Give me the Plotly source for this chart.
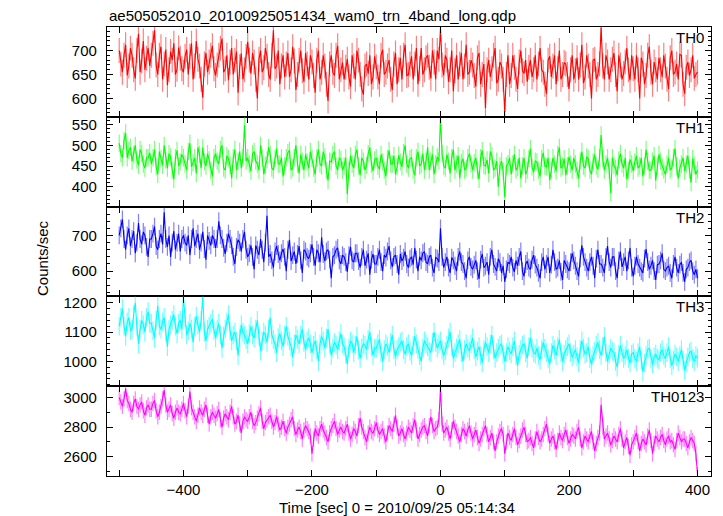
import plotly.graph_objects as go
from plotly.subplots import make_subplots

# ---------------- data ----------------
# *_a : samples at t = -500, -495, ..., 400 s
# *_b : samples at the half steps t = -497.5, -492.5, ..., 397.5 s
time_a = list(range(-500, 401, 5))
time_b = [t + 2.5 for t in time_a[:-1]]

th0_a = [700, 655, 712, 668, 690, 642, 735, 678, 660, 705,
         690, 742, 650, 708, 672, 628, 698, 715, 661, 684,
         655, 702, 688, 640, 720, 668, 602, 695, 676, 710,
         648, 690, 725, 662, 638, 705, 680, 612, 694, 660,
         718, 652, 676, 600, 700, 664, 688, 640, 742, 668,
         630, 690, 672, 645, 708, 618, 680, 658, 695, 640,
         676, 612, 700, 655, 668, 595, 690, 648, 710, 660,
         640, 682, 625, 668, 700, 650, 608, 672, 690, 645,
         666, 630, 702, 655, 680, 618, 695, 660, 640, 712,
         650, 688, 672, 630, 705, 660, 690, 642, 676, 700,
         745, 648, 680, 660, 615, 690, 672, 640, 712, 655,
         670, 625, 695, 650, 580, 680, 662, 705, 640, 668,
         572, 690, 648, 665, 620, 700, 652, 635, 680, 660,
         640, 705, 655, 610, 688, 668, 630, 700, 650, 672,
         620, 690, 658, 640, 712, 645, 668, 600, 682, 650,
         748, 640, 676, 660, 695, 615, 670, 652, 705, 638,
         662, 690, 600, 672, 648, 708, 630, 660, 685, 645,
         668, 620, 700, 655, 640, 690, 610, 676, 660, 642,
         655]
th0_b = [672, 690, 648, 705, 660, 700, 655, 720, 684, 668,
         715, 670, 690, 640, 702, 660, 680, 650, 706, 662,
         688, 650, 715, 668, 682, 640, 672, 655, 690, 662,
         670, 705, 655, 690, 676, 650, 698, 666, 640, 688,
         680, 695, 640, 682, 655, 705, 650, 690, 662, 700,
         668, 645, 695, 660, 678, 650, 700, 635, 672, 690,
         648, 680, 640, 690, 630, 672, 655, 690, 640, 675,
         665, 645, 690, 640, 680, 620, 668, 652, 630, 688,
         645, 690, 650, 668, 640, 672, 630, 685, 690, 648,
         672, 640, 705, 662, 650, 685, 665, 700, 640, 682,
         670, 690, 635, 700, 658, 640, 695, 668, 650, 680,
         648, 685, 630, 672, 660, 645, 690, 632, 676, 640,
         650, 630, 690, 640, 676, 658, 680, 665, 645, 690,
         672, 660, 630, 680, 645, 690, 662, 640, 675, 650,
         660, 640, 685, 670, 632, 690, 650, 680, 640, 672,
         668, 690, 640, 682, 650, 690, 640, 676, 660, 690,
         640, 660, 685, 630, 690, 655, 676, 640, 660, 690,
         640, 685, 650, 672, 692, 630, 665, 648, 690, 650]

th1_a = [505, 470, 530, 488, 462, 500, 452, 480, 445, 470,
         455, 490, 430, 468, 500, 445, 472, 418, 488, 460,
         470, 440, 505, 458, 432, 478, 495, 450, 465, 425,
         480, 455, 500, 440, 468, 420, 490, 462, 445, 550,
         470, 438, 485, 455, 500, 430, 465, 478, 440, 492,
         455, 425, 470, 488, 446, 500, 432, 462, 478, 445,
         468, 430, 490, 450, 472, 415, 460, 485, 440, 466,
         450, 382, 475, 445, 490, 428, 462, 452, 495, 438,
         470, 442, 460, 425, 488, 455, 430, 476, 448, 500,
         445, 470, 428, 485, 455, 440, 495, 462, 430, 472,
         565, 450, 478, 432, 490, 455, 420, 468, 445, 480,
         440, 470, 418, 488, 450, 432, 475, 445, 400, 462,
         375, 455, 430, 478, 446, 420, 470, 440, 492, 435,
         460, 425, 482, 448, 415, 470, 438, 495, 450, 428,
         472, 440, 455, 420, 485, 445, 468, 430, 478, 442,
         525, 440, 470, 385, 452, 428, 480, 445, 418, 466,
         438, 475, 450, 425, 490, 440, 462, 415, 478, 448,
         430, 470, 445, 492, 420, 455, 438, 475, 410, 452,
         440]
th1_b = [480, 512, 470, 495, 478, 465, 490, 455, 470, 482,
         470, 448, 485, 452, 465, 480, 440, 470, 450, 478,
         455, 485, 448, 470, 495, 445, 460, 480, 440, 470,
         462, 490, 445, 475, 452, 470, 440, 485, 470, 462,
         455, 480, 462, 440, 470, 452, 495, 445, 468, 455,
         470, 450, 482, 440, 470, 455, 478, 440, 460, 485,
         445, 470, 455, 485, 440, 462, 478, 450, 470, 440,
         470, 440, 455, 478, 450, 470, 440, 480, 455, 465,
         450, 478, 440, 468, 455, 475, 448, 460, 482, 455,
         468, 440, 470, 450, 480, 462, 440, 478, 455, 462,
         480, 445, 462, 470, 440, 475, 458, 440, 470, 455,
         458, 440, 470, 452, 465, 485, 440, 462, 450, 438,
         450, 470, 455, 440, 470, 450, 430, 468, 448, 462,
         440, 468, 450, 470, 440, 455, 478, 445, 468, 450,
         455, 470, 440, 462, 450, 472, 440, 460, 450, 470,
         468, 455, 440, 470, 445, 465, 455, 470, 440, 455,
         460, 445, 470, 450, 462, 440, 475, 450, 462, 440,
         455, 440, 470, 450, 445, 470, 455, 440, 468, 430]

th2_a = [700, 745, 660, 720, 690, 650, 735, 675, 700, 640,
         690, 725, 660, 705, 765, 668, 640, 712, 680, 655,
         700, 672, 645, 720, 690, 660, 710, 632, 685, 700,
         665, 740, 690, 648, 705, 672, 620, 688, 655, 710,
         640, 672, 605, 660, 690, 625, 755, 648, 610, 670,
         630, 662, 600, 688, 645, 620, 670, 595, 655, 635,
         675, 615, 650, 695, 628, 660, 580, 645, 665, 620,
         640, 598, 668, 625, 650, 610, 660, 632, 590, 648,
         620, 660, 600, 638, 670, 612, 645, 590, 628, 655,
         610, 640, 665, 600, 630, 655, 620, 645, 595, 635,
         720, 610, 640, 595, 630, 600, 655, 620, 580, 640,
         605, 630, 578, 648, 615, 590, 660, 612, 635, 595,
         570, 625, 640, 598, 615, 655, 585, 628, 605, 645,
         610, 580, 640, 620, 595, 660, 605, 630, 575, 620,
         600, 650, 615, 585, 672, 625, 600, 640, 580, 660,
         620, 595, 670, 610, 640, 580, 655, 625, 600, 665,
         585, 640, 610, 595, 662, 605, 630, 575, 620, 650,
         600, 615, 580, 640, 595, 625, 570, 610, 630, 590,
         580]
th2_b = [720, 690, 700, 670, 712, 680, 690, 710, 668, 690,
         705, 670, 690, 675, 690, 700, 680, 660, 705, 690,
         680, 700, 690, 670, 705, 680, 662, 700, 672, 690,
         690, 700, 665, 680, 690, 640, 668, 680, 690, 660,
         650, 640, 672, 645, 660, 680, 640, 630, 655, 648,
         650, 640, 660, 628, 655, 648, 630, 660, 640, 650,
         640, 660, 625, 648, 655, 632, 640, 660, 630, 645,
         625, 645, 630, 650, 628, 640, 615, 650, 632, 620,
         640, 625, 645, 655, 630, 640, 620, 648, 638, 620,
         635, 618, 632, 640, 650, 625, 640, 610, 638, 625,
         640, 625, 610, 638, 615, 640, 625, 600, 630, 612,
         618, 600, 632, 610, 625, 640, 620, 600, 625, 615,
         605, 620, 610, 630, 640, 600, 620, 610, 632, 618,
         595, 625, 605, 640, 618, 625, 610, 598, 630, 605,
         625, 630, 600, 635, 640, 610, 625, 615, 635, 620,
         610, 640, 625, 640, 600, 630, 612, 640, 630, 610,
         615, 620, 600, 635, 625, 615, 600, 618, 630, 605,
         610, 595, 620, 610, 618, 595, 605, 625, 600, 605]

th3_a = [1120, 1180, 1085, 1150, 1110, 1200, 1060, 1140, 1100, 1170,
         1130, 1080, 1190, 1110, 1150, 1050, 1125, 1160, 1095, 1140,
         1220, 1090, 1130, 1065, 1155, 1100, 1220, 1070, 1120, 1145,
         1080, 1130, 1045, 1110, 1160, 1070, 1100, 1020, 1125, 1090,
         1060, 1120, 1080, 1140, 1035, 1100, 1065, 1150, 1075, 1030,
         1095, 1050, 1120, 1070, 1015, 1090, 1060, 1110, 1040, 1080,
         1030, 1070, 1000, 1085, 1045, 1110, 1020, 1065, 1040, 1095,
         1050, 990, 1070, 1030, 1085, 1010, 1060, 1040, 1100, 1020,
         1045, 1075, 1000, 1060, 1030, 1090, 1015, 1050, 1070, 1025,
         1060, 1020, 1085, 1040, 1000, 1070, 1050, 1030, 1100, 1045,
         1070, 1020, 1055, 1100, 1010, 1045, 1075, 1000, 1060, 1035,
         1080, 1015, 1050, 995, 1065, 1030, 1090, 1010, 1045, 1060,
         1000, 1050, 1025, 1070, 985, 1040, 1060, 1010, 1080, 1030,
         1045, 1005, 1065, 1030, 990, 1055, 1020, 1075, 1000, 1040,
         1060, 1015, 1040, 995, 1070, 1025, 1050, 990, 1035, 1065,
         1020, 1085, 1000, 1045, 1030, 980, 1055, 1010, 1040, 995,
         1030, 1000, 1050, 965, 1020, 1045, 990, 1025, 1005, 1040,
         1010, 1050, 985, 1025, 1000, 1040, 970, 1015, 1035, 1000,
         1010]
th3_b = [1150, 1120, 1135, 1105, 1160, 1120, 1110, 1125, 1150, 1130,
         1105, 1140, 1120, 1135, 1100, 1110, 1140, 1120, 1130, 1110,
         1150, 1105, 1110, 1120, 1125, 1140, 1100, 1110, 1130, 1105,
         1110, 1090, 1085, 1135, 1105, 1090, 1070, 1080, 1100, 1075,
         1095, 1090, 1110, 1085, 1070, 1090, 1110, 1090, 1060, 1080,
         1070, 1090, 1085, 1050, 1060, 1075, 1090, 1065, 1070, 1060,
         1055, 1040, 1060, 1070, 1080, 1060, 1045, 1055, 1070, 1060,
         1025, 1045, 1060, 1055, 1040, 1045, 1055, 1075, 1050, 1045,
         1060, 1030, 1040, 1050, 1065, 1040, 1040, 1065, 1040, 1050,
         1035, 1055, 1060, 1020, 1045, 1060, 1035, 1065, 1065, 1060,
         1040, 1035, 1080, 1050, 1030, 1060, 1030, 1040, 1045, 1060,
         1040, 1035, 1020, 1040, 1050, 1060, 1040, 1030, 1055, 1025,
         1030, 1035, 1050, 1020, 1025, 1055, 1030, 1050, 1045, 1025,
         1020, 1040, 1045, 1010, 1030, 1040, 1050, 1030, 1025, 1050,
         1030, 1025, 1015, 1040, 1045, 1030, 1010, 1020, 1055, 1040,
         1050, 1030, 1025, 1035, 1000, 1025, 1030, 1020, 1010, 1025,
         1010, 1030, 1005, 995, 1040, 1010, 1015, 1010, 1030, 1020,
         1030, 1010, 1005, 1015, 1020, 1005, 995, 1030, 1010, 1020]

th0123_a = [3000, 2940, 3060, 2960, 2900, 2990, 2920, 2970, 2880, 2950,
            2920, 2980, 2870, 2940, 3050, 2900, 2950, 2860, 2930, 2890,
            2960, 2870, 3040, 2900, 2840, 2930, 2880, 2950, 2820, 2900,
            2860, 2920, 2800, 2890, 2850, 2940, 2820, 2880, 2760, 2870,
            2840, 2900, 2810, 2860, 2930, 2790, 2850, 2880, 2800, 2870,
            2780, 2840, 2760, 2820, 2870, 2750, 2800, 2720, 2810, 2770,
            2620, 2790, 2740, 2820, 2760, 2700, 2790, 2840, 2750, 2800,
            2760, 2820, 2720, 2790, 2740, 2860, 2770, 2700, 2800, 2760,
            2830, 2750, 2790, 2700, 2810, 2770, 2880, 2740, 2790, 2720,
            2800, 2760, 2850, 2720, 2780, 2810, 2740, 2870, 2770, 2800,
            3060, 2760, 2800, 2720, 2840, 2770, 2700, 2790, 2740, 2810,
            2720, 2780, 2690, 2750, 2810, 2700, 2760, 2640, 2740, 2790,
            2620, 2760, 2710, 2790, 2680, 2740, 2800, 2700, 2730, 2660,
            2770, 2700, 2750, 2820, 2690, 2740, 2650, 2760, 2710, 2780,
            2690, 2750, 2720, 2800, 2660, 2740, 2700, 2770, 2640, 2730,
            2950, 2720, 2760, 2680, 2740, 2700, 2790, 2660, 2730, 2610,
            2700, 2760, 2640, 2720, 2680, 2780, 2620, 2740, 2700, 2750,
            2680, 2740, 2710, 2650, 2760, 2700, 2720, 2660, 2730, 2690,
            2480]
th0123_b = [2970, 2990, 2980, 2920, 2960, 2940, 2950, 2910, 2930, 2920,
            2960, 2910, 2900, 2990, 2950, 2920, 2890, 2900, 2900, 2920,
            2910, 2940, 2930, 2870, 2880, 2900, 2920, 2880, 2870, 2880,
            2890, 2850, 2860, 2870, 2900, 2870, 2840, 2820, 2840, 2850,
            2870, 2840, 2830, 2890, 2840, 2830, 2870, 2840, 2830, 2820,
            2800, 2790, 2800, 2850, 2790, 2780, 2770, 2780, 2790, 2740,
            2720, 2760, 2790, 2780, 2730, 2760, 2810, 2790, 2780, 2770,
            2790, 2760, 2750, 2770, 2810, 2800, 2730, 2760, 2770, 2790,
            2780, 2770, 2740, 2760, 2790, 2820, 2800, 2760, 2750, 2760,
            2780, 2810, 2780, 2750, 2800, 2770, 2810, 2810, 2790, 2850,
            2820, 2780, 2760, 2780, 2800, 2740, 2750, 2770, 2780, 2760,
            2750, 2730, 2720, 2790, 2750, 2730, 2700, 2700, 2770, 2750,
            2700, 2730, 2750, 2730, 2710, 2780, 2750, 2710, 2690, 2720,
            2730, 2720, 2790, 2750, 2720, 2700, 2710, 2730, 2750, 2730,
            2720, 2740, 2770, 2720, 2700, 2720, 2740, 2700, 2690, 2760,
            2800, 2740, 2720, 2710, 2720, 2750, 2720, 2700, 2670, 2680,
            2730, 2700, 2690, 2700, 2740, 2710, 2690, 2720, 2730, 2710,
            2720, 2700, 2680, 2710, 2730, 2720, 2690, 2700, 2710, 2620]

band_names = ["TH0", "TH1", "TH2", "TH3", "TH0123"]
band_errors = [26, 21, 25, 32, 52]
x_tick_values = [-500, -400, -300, -200, -100, 0, 100, 200, 300, 400]
x_tick_labels = ["", "\u2212400", "", "\u2212200", "", "0", "", "200", "", "400"]


def interleave(a, b):
    out = []
    for j in range(len(b)):
        out.append(a[j])
        out.append(b[j])
    out.append(a[-1])
    return out


time_sec = interleave(time_a, time_b)
series = [interleave(th0_a, th0_b), interleave(th1_a, th1_b), interleave(th2_a, th2_b),
          interleave(th3_a, th3_b), interleave(th0123_a, th0123_b)]

colors = ["#ff0000", "#00ff00", "#0000ff", "#00ffff", "#ff00ff"]
err_colors = ["rgba(255,0,0,0.5)", "rgba(0,255,0,0.5)", "rgba(0,0,255,0.5)",
              "rgba(0,255,255,0.55)", "rgba(255,0,255,0.5)"]
y_ranges = [[562, 749], [352, 569], [529, 781], [915, 1222], [2470, 3076]]
y_dticks = [50, 50, 100, 100, 200]
y_minor = [10, 10, 20, 20, 100]

FONT = "Liberation Sans, Arial, Helvetica, sans-serif"

fig = make_subplots(rows=5, cols=1, shared_xaxes=True, vertical_spacing=0)

for i in range(5):
    r = i + 1
    fig.add_trace(go.Scatter(
        x=time_sec, y=series[i], mode="lines",
        line=dict(color=colors[i], width=1.1),
        error_y=dict(type="constant", value=band_errors[i], color=err_colors[i],
                     thickness=1.2, width=0),
        showlegend=False, hoverinfo="skip"), row=r, col=1)
    fig.update_yaxes(range=y_ranges[i], dtick=y_dticks[i], tick0=0,
                     ticks="inside", ticklen=6, tickwidth=1, tickcolor="black",
                     minor=dict(dtick=y_minor[i], ticks="inside", ticklen=3,
                                tickcolor="black", tickwidth=1),
                     showline=True, mirror="ticks", linecolor="black", linewidth=1.3,
                     showgrid=False, zeroline=False,
                     tickfont=dict(family=FONT, size=15, color="black"),
                     ticklabelstandoff=6,
                     row=r, col=1)
    fig.update_xaxes(range=[-519, 421], tickvals=x_tick_values, ticktext=x_tick_labels,
                     ticks="inside", ticklen=6, tickwidth=1, tickcolor="black",
                     showline=True, mirror="ticks", linecolor="black", linewidth=1.3,
                     showgrid=False, zeroline=False,
                     showticklabels=(r == 5),
                     tickfont=dict(family=FONT, size=15, color="black"),
                     row=r, col=1)
    yref = "y domain" if r == 1 else f"y{r} domain"
    fig.add_annotation(text=band_names[i], xref="paper", yref=yref,
                       x=1.0, xshift=-5, y=1, xanchor="right", yanchor="top",
                       showarrow=False, font=dict(family=FONT, size=15, color="black"))

fig.add_annotation(text="ae505052010_20100925051434_wam0_trn_4band_long.qdp",
                   xref="paper", yref="paper", x=0, y=1, yshift=12,
                   xanchor="left", yanchor="middle", showarrow=False,
                   font=dict(family=FONT, size=15, color="black"))
fig.add_annotation(text="Counts/sec", xref="paper", yref="paper",
                   x=-0.108, y=0.485, xanchor="center", yanchor="middle",
                   textangle=-90, showarrow=False,
                   font=dict(family=FONT, size=15, color="black"))
fig.add_annotation(text="Time [sec] 0 = 2010/09/25 05:14:34", xref="paper", yref="paper",
                   x=0.48, y=0, yshift=-31, xanchor="center", yanchor="middle",
                   showarrow=False, font=dict(family=FONT, size=15, color="black"))

# the page adds an 8 px body margin, so the figure is 8 px smaller and the
# left/top margins are 8 px less than the reference positions
fig.update_layout(width=715, height=508,
                  margin=dict(l=99, r=12, t=19, b=40),
                  paper_bgcolor="white", plot_bgcolor="white",
                  font=dict(family=FONT, size=15, color="black"))

fig.write_html("out.html")
